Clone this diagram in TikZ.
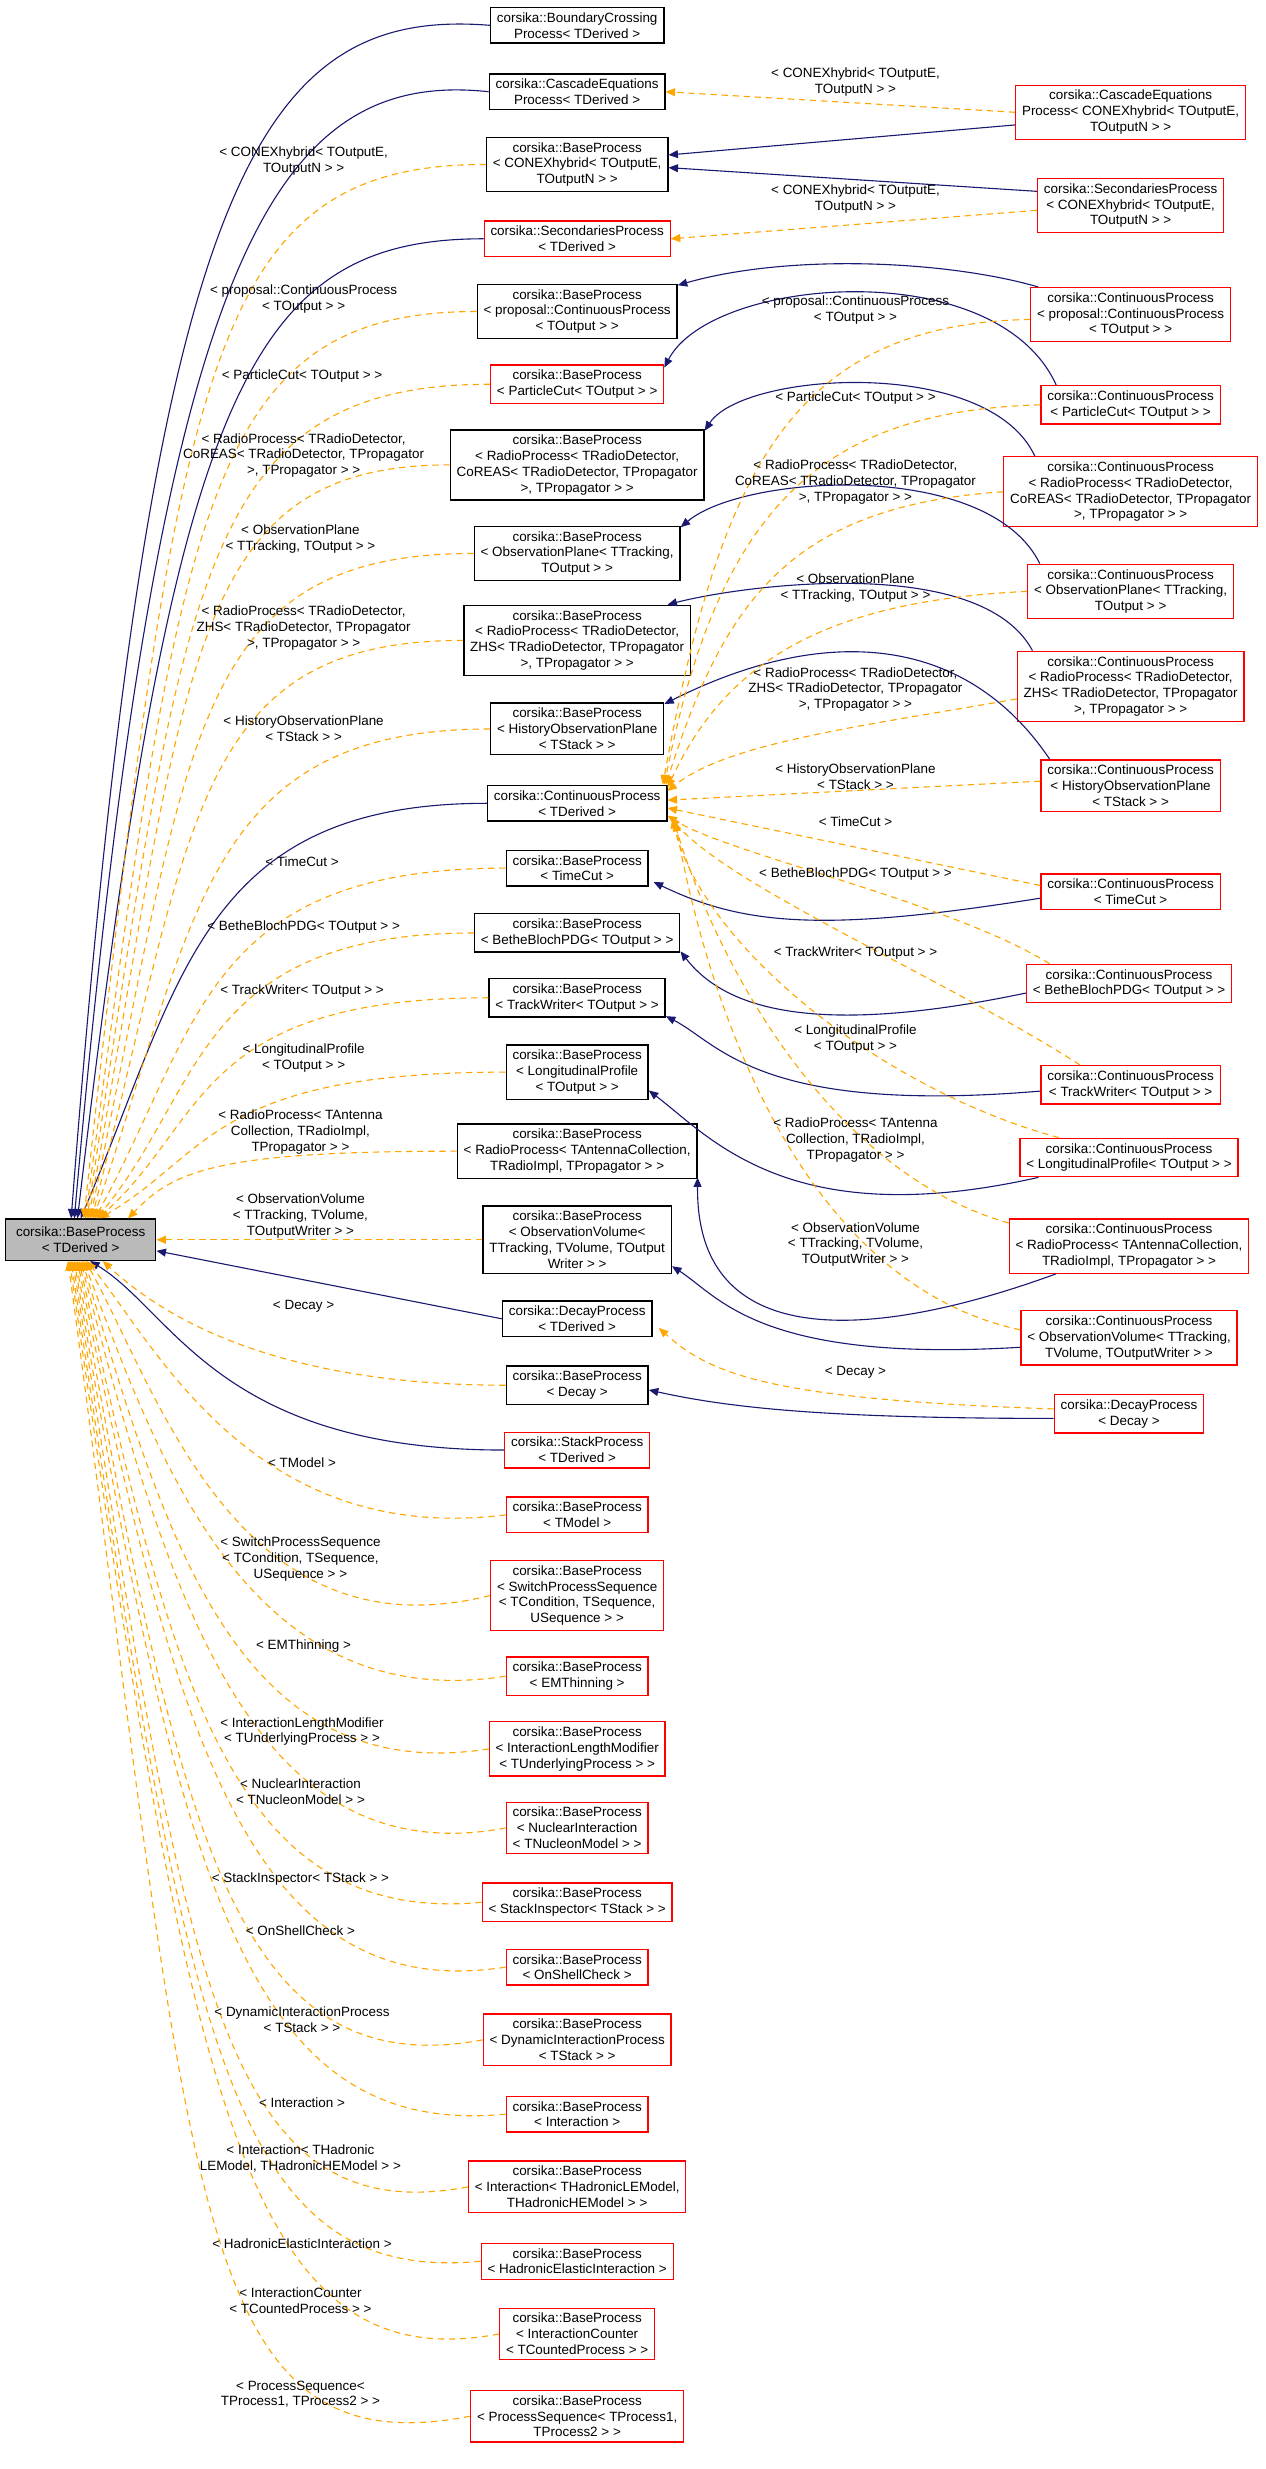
\documentclass[tikz,border=0pt]{standalone}
\usepackage{fontspec}
\setmainfont{Liberation Sans}
\usetikzlibrary{arrows.meta}
\definecolor{navy}{HTML}{191970}
\definecolor{dorange}{HTML}{FFA500}
\begin{document}
\begin{tikzpicture}[x=1pt,y=-1pt,
  every node/.style={font=\fontsize{8.5}{10}\selectfont,align=center,inner xsep=4pt,inner ysep=3.2pt},
  bb/.style={draw=black,line width=0.9pt,fill=white},
  rb/.style={draw=red,line width=0.8pt,fill=white},
  lab/.style={inner sep=0pt},
  inh/.style={draw=navy,line width=0.7pt,-{Triangle[length=6pt,width=5pt]}},
  tpl/.style={draw=dorange,line width=0.7pt,dash pattern=on 4pt off 3pt,-{Triangle[length=6pt,width=5pt]}}]
\useasboundingbox (0,0) rectangle (800,1561.4);
% gray
\node[draw=black,line width=0.9pt,fill=black!27,minimum width=95pt,minimum height=26pt] (G) at (51,784) {corsika::BaseProcess\\< TDerived >};
% middle column
\node[bb] (M1) at (365,16) {corsika::BoundaryCrossing\\Process< TDerived >};
\node[bb] (M2) at (365,58) {corsika::CascadeEquations\\Process< TDerived >};
\node[bb] (M3) at (365,104) {corsika::BaseProcess\\< CONEXhybrid< TOutputE,\\ TOutputN > >};
\node[rb] (M4) at (365,151) {corsika::SecondariesProcess\\< TDerived >};
\node[bb] (M5) at (365,197) {corsika::BaseProcess\\< proposal::ContinuousProcess\\< TOutput > >};
\node[rb] (M6) at (365,243) {corsika::BaseProcess\\< ParticleCut< TOutput > >};
\node[bb] (M7) at (365,294) {corsika::BaseProcess\\< RadioProcess< TRadioDetector,\\ CoREAS< TRadioDetector, TPropagator\\ >, TPropagator > >};
\node[bb] (M8) at (365,350) {corsika::BaseProcess\\< ObservationPlane< TTracking,\\ TOutput > >};
\node[bb] (M9) at (365,405) {corsika::BaseProcess\\< RadioProcess< TRadioDetector,\\ ZHS< TRadioDetector, TPropagator\\ >, TPropagator > >};
\node[bb] (M10) at (365,461) {corsika::BaseProcess\\< HistoryObservationPlane\\< TStack > >};
\node[bb] (M11) at (365,508) {corsika::ContinuousProcess\\< TDerived >};
\node[bb] (M12) at (365,549) {corsika::BaseProcess\\< TimeCut >};
\node[bb] (M13) at (365,590) {corsika::BaseProcess\\< BetheBlochPDG< TOutput > >};
\node[bb] (M14) at (365,631) {corsika::BaseProcess\\< TrackWriter< TOutput > >};
\node[bb] (M15) at (365,678) {corsika::BaseProcess\\< LongitudinalProfile\\< TOutput > >};
\node[bb] (M16) at (365,728) {corsika::BaseProcess\\< RadioProcess< TAntennaCollection,\\ TRadioImpl, TPropagator > >};
\node[bb] (M17) at (365,784) {corsika::BaseProcess\\< ObservationVolume<\\ TTracking, TVolume, TOutput\\Writer > >};
\node[bb] (M18) at (365,834) {corsika::DecayProcess\\< TDerived >};
\node[bb] (M19) at (365,876) {corsika::BaseProcess\\< Decay >};
\node[rb] (M20) at (365,917) {corsika::StackProcess\\< TDerived >};
\node[rb] (M21) at (365,958) {corsika::BaseProcess\\< TModel >};
\node[rb] (M22) at (365,1009) {corsika::BaseProcess\\< SwitchProcessSequence\\< TCondition, TSequence,\\ USequence > >};
\node[rb] (M23) at (365,1060) {corsika::BaseProcess\\< EMThinning >};
\node[rb] (M24) at (365,1106) {corsika::BaseProcess\\< InteractionLengthModifier\\< TUnderlyingProcess > >};
\node[rb] (M25) at (365,1156) {corsika::BaseProcess\\< NuclearInteraction\\< TNucleonModel > >};
\node[rb] (M26) at (365,1203) {corsika::BaseProcess\\< StackInspector< TStack > >};
\node[rb] (M27) at (365,1244) {corsika::BaseProcess\\< OnShellCheck >};
\node[rb] (M28) at (365,1290) {corsika::BaseProcess\\< DynamicInteractionProcess\\< TStack > >};
\node[rb] (M29) at (365,1337) {corsika::BaseProcess\\< Interaction >};
\node[rb] (M30) at (365,1383) {corsika::BaseProcess\\< Interaction< THadronicLEModel,\\ THadronicHEModel > >};
\node[rb] (M31) at (365,1430) {corsika::BaseProcess\\< HadronicElasticInteraction >};
\node[rb] (M32) at (365,1476) {corsika::BaseProcess\\< InteractionCounter\\< TCountedProcess > >};
\node[rb] (M33) at (365,1528) {corsika::BaseProcess\\< ProcessSequence< TProcess1,\\ TProcess2 > >};
% right column
\node[rb] (R1) at (715,71) {corsika::CascadeEquations\\Process< CONEXhybrid< TOutputE,\\ TOutputN > >};
\node[rb] (R2) at (715,130) {corsika::SecondariesProcess\\< CONEXhybrid< TOutputE,\\ TOutputN > >};
\node[rb] (R3) at (715,199) {corsika::ContinuousProcess\\< proposal::ContinuousProcess\\< TOutput > >};
\node[rb] (R4) at (715,256) {corsika::ContinuousProcess\\< ParticleCut< TOutput > >};
\node[rb] (R5) at (715,311) {corsika::ContinuousProcess\\< RadioProcess< TRadioDetector,\\ CoREAS< TRadioDetector, TPropagator\\ >, TPropagator > >};
\node[rb] (R6) at (715,374) {corsika::ContinuousProcess\\< ObservationPlane< TTracking,\\ TOutput > >};
\node[rb] (R7) at (715,434) {corsika::ContinuousProcess\\< RadioProcess< TRadioDetector,\\ ZHS< TRadioDetector, TPropagator\\ >, TPropagator > >};
\node[rb] (R8) at (715,497) {corsika::ContinuousProcess\\< HistoryObservationPlane\\< TStack > >};
\node[rb] (R9) at (715,564) {corsika::ContinuousProcess\\< TimeCut >};
\node[rb] (R10) at (714,622) {corsika::ContinuousProcess\\< BetheBlochPDG< TOutput > >};
\node[rb] (R11) at (715,686) {corsika::ContinuousProcess\\< TrackWriter< TOutput > >};
\node[rb] (R12) at (714,732) {corsika::ContinuousProcess\\< LongitudinalProfile< TOutput > >};
\node[rb] (R13) at (714,788) {corsika::ContinuousProcess\\< RadioProcess< TAntennaCollection,\\ TRadioImpl, TPropagator > >};
\node[rb] (R14) at (714,846) {corsika::ContinuousProcess\\< ObservationVolume< TTracking,\\ TVolume, TOutputWriter > >};
\node[rb] (R15) at (714,894) {corsika::DecayProcess\\< Decay >};
% edges to gray (solid)
\draw[inh] (M1.west) .. controls +(-150,-12) and (95,120) .. ([xshift=-6pt]G.north);
\draw[inh] (M2.west) .. controls +(-140,-15) and (100,170) .. ([xshift=-4pt]G.north);
\draw[inh] (M4.west) .. controls +(-150,0) and (110,250) .. ([xshift=-2pt]G.north);
\draw[inh] (M11.west) .. controls +(-180,0) and (115,620) .. ([xshift=0pt]G.north);
\draw[inh] (M18.west) -- ([yshift=-7pt]G.east);
\draw[inh] (M20.west) .. controls +(-180,0) and (110,830) .. ([xshift=6pt]G.south);
% edges to gray (dashed, above)
\draw[tpl] (M3.west) .. controls +(-175,0) and (112,230) .. ([xshift=2pt]G.north);
\draw[tpl] (M5.west) .. controls +(-170,0) and (114,320) .. ([xshift=3pt]G.north);
\draw[tpl] (M6.west) .. controls +(-185,0) and (116,370) .. ([xshift=4pt]G.north);
\draw[tpl] (M7.west) .. controls +(-165,0) and (118,420) .. ([xshift=5pt]G.north);
\draw[tpl] (M8.west) .. controls +(-180,0) and (120,470) .. ([xshift=6pt]G.north);
\draw[tpl] (M9.west) .. controls +(-170,0) and (122,520) .. ([xshift=7pt]G.north);
\draw[tpl] (M10.west) .. controls +(-180,0) and (124,580) .. ([xshift=8pt]G.north);
\draw[tpl] (M12.west) .. controls +(-190,0) and (126,650) .. ([xshift=9pt]G.north);
\draw[tpl] (M13.west) .. controls +(-175,0) and (128,690) .. ([xshift=10pt]G.north);
\draw[tpl] (M14.west) .. controls +(-185,0) and (130,710) .. ([xshift=11pt]G.north);
\draw[tpl] (M15.west) .. controls +(-185,0) and (132,730) .. ([xshift=12pt]G.north);
\draw[tpl] (M16.west) .. controls +(-150,0) and (110,740) .. ([xshift=-18pt]G.north east);
\draw[tpl] (M17.west) -- (G.east);
\draw[tpl] (M19.west) .. controls +(-150,0) and (100,830) .. ([xshift=14pt]G.south);
% edges to gray (dashed, below)
\draw[tpl] (M21.west) .. controls +(-160,20) and (98,850) .. ([xshift=4pt]G.south);
\draw[tpl] (M22.west) .. controls +(-160,40) and (100,880) .. ([xshift=3pt]G.south);
\draw[tpl] (M23.west) .. controls +(-160,25) and (102,930) .. ([xshift=2pt]G.south);
\draw[tpl] (M24.west) .. controls +(-160,25) and (104,970) .. ([xshift=1pt]G.south);
\draw[tpl] (M25.west) .. controls +(-160,30) and (106,1010) .. ([xshift=0pt]G.south);
\draw[tpl] (M26.west) .. controls +(-160,15) and (108,1060) .. ([xshift=-1pt]G.south);
\draw[tpl] (M27.west) .. controls +(-160,25) and (110,1100) .. ([xshift=-2pt]G.south);
\draw[tpl] (M28.west) .. controls +(-160,30) and (112,1150) .. ([xshift=-3pt]G.south);
\draw[tpl] (M29.west) .. controls +(-160,15) and (114,1200) .. ([xshift=-4pt]G.south);
\draw[tpl] (M30.west) .. controls +(-160,30) and (116,1240) .. ([xshift=-5pt]G.south);
\draw[tpl] (M31.west) .. controls +(-160,15) and (118,1290) .. ([xshift=-6pt]G.south);
\draw[tpl] (M32.west) .. controls +(-160,30) and (120,1330) .. ([xshift=-7pt]G.south);
\draw[tpl] (M33.west) .. controls +(-180,35) and (122,1380) .. ([xshift=-8pt]G.south);
% left labels
\node[lab] (L3) at (192,102) {< CONEXhybrid< TOutputE,\\ TOutputN > >};
\node[lab] (L5) at (192,189) {< proposal::ContinuousProcess\\< TOutput > >};
\node[lab] (L6) at (191,237.5) {< ParticleCut< TOutput > >};
\node[lab] (L7) at (192,288) {< RadioProcess< TRadioDetector,\\CoREAS< TRadioDetector, TPropagator\\ >, TPropagator > >};
\node[lab] (L8) at (190,341) {< ObservationPlane\\< TTracking, TOutput > >};
\node[lab] (L9) at (192,397) {< RadioProcess< TRadioDetector,\\ZHS< TRadioDetector, TPropagator\\ >, TPropagator > >};
\node[lab] (L10) at (192,461) {< HistoryObservationPlane\\< TStack > >};
\node[lab] (L12) at (191,545) {< TimeCut >};
\node[lab] (L13) at (192,586) {< BetheBlochPDG< TOutput > >};
\node[lab] (L14) at (191,627) {< TrackWriter< TOutput > >};
\node[lab] (L15) at (192,669) {< LongitudinalProfile\\< TOutput > >};
\node[lab] (L16) at (190,716) {< RadioProcess< TAntenna\\Collection, TRadioImpl,\\ TPropagator > >};
\node[lab] (L17) at (190,769) {< ObservationVolume\\< TTracking, TVolume,\\ TOutputWriter > >};
\node[lab] (L19) at (192,826) {< Decay >};
\node[lab] (L21) at (191,925) {< TModel >};
\node[lab] (L22) at (190,986) {< SwitchProcessSequence\\< TCondition, TSequence,\\ USequence > >};
\node[lab] (L23) at (192,1041) {< EMThinning >};
\node[lab] (L24) at (191,1095) {< InteractionLengthModifier\\< TUnderlyingProcess > >};
\node[lab] (L25) at (190,1133) {< NuclearInteraction\\< TNucleonModel > >};
\node[lab] (L26) at (190,1188) {< StackInspector< TStack > >};
\node[lab] (L27) at (190,1221) {< OnShellCheck >};
\node[lab] (L28) at (191,1277) {< DynamicInteractionProcess\\< TStack > >};
\node[lab] (L29) at (191,1330) {< Interaction >};
\node[lab] (L30) at (190,1365) {< Interaction< THadronic\\LEModel, THadronicHEModel > >};
\node[lab] (L31) at (191,1419) {< HadronicElasticInteraction >};
\node[lab] (L32) at (190,1455) {< InteractionCounter\\< TCountedProcess > >};
\node[lab] (L33) at (190,1514) {< ProcessSequence<\\TProcess1, TProcess2 > >};
% right -> middle edges
\draw[tpl] (R1.west) -- (M2.east);
\draw[inh] ([yshift=-8pt]R1.west) -- ([yshift=6pt]M3.east);
\draw[inh] ([yshift=9pt]R2.west) -- ([yshift=-2pt]M3.east);
\draw[tpl] ([yshift=-3pt]R2.west) -- (M4.east);
\draw[inh] ([xshift=5pt]R3.north west) .. controls (600,165) and (500,160) .. ([yshift=-1pt]M5.north east);
\draw[inh] ([xshift=10pt]R4.north west) .. controls (630,160) and (450,175) .. ([yshift=-2pt]M6.north east);
\draw[inh] ([xshift=20pt]R5.north west) .. controls (625,225) and (470,235) .. ([yshift=-1pt]M7.north east);
\draw[inh] ([xshift=8pt]R6.north west) .. controls (625,290) and (470,300) .. ([yshift=-1pt]M8.north east);
\draw[inh] ([xshift=10pt]R7.north west) .. controls (620,350) and (470,370) .. ([xshift=-15pt]M9.north east);
\draw[inh] ([xshift=6pt]R8.north west) .. controls (610,400) and (520,395) .. ([yshift=-1pt]M10.north east);
\draw[inh] ([yshift=-4pt]R9.west) .. controls (520,590) and (470,585) .. ([xshift=3pt,yshift=3pt]M12.south east);
\draw[inh] ([yshift=-6pt]R10.west) .. controls (520,655) and (460,640) .. ([yshift=1pt]M13.south east);
\draw[inh] ([yshift=-4pt]R11.west) .. controls (480,705) and (455,660) .. ([yshift=1pt]M14.south east);
\draw[inh] ([xshift=12pt]R12.south west) .. controls (500,780) and (450,720) .. ([yshift=6pt]M15.south east);
\draw[inh] ([xshift=30pt]R13.south west) .. controls (560,845) and (440,860) .. ([yshift=1pt]M16.south east);
\draw[inh] ([yshift=-6pt]R14.west) .. controls (480,862) and (455,820) .. ([yshift=5pt]M17.south east);
\draw[inh] ([yshift=-3pt]R15.west) .. controls (520,897) and (460,890) .. ([yshift=-3pt]M19.east);
\draw[tpl] ([yshift=3pt]R15.west) .. controls (490,885) and (450,870) .. ([xshift=4pt,yshift=6pt]M18.south east);
% dashed into M11
\draw[tpl] ([yshift=-3pt]R3.west) .. controls (500,205) and (455,300) .. ([xshift=-3pt]M11.north east);
\draw[tpl] (R4.west) .. controls (520,260) and (455,320) .. ([xshift=-2pt]M11.north east);
\draw[tpl] (R5.west) .. controls (500,320) and (458,380) .. ([xshift=-1pt]M11.north east);
\draw[tpl] (R6.west) .. controls (520,380) and (458,420) .. ([yshift=-2pt]M11.north east);
\draw[tpl] ([yshift=-8pt]R7.west) .. controls (540,460) and (460,470) .. ([yshift=-4pt]M11.north east);
\draw[tpl] ([yshift=3pt]R8.west) -- ([yshift=2pt]M11.east);
\draw[tpl] ([yshift=4pt]R9.west) -- ([yshift=-3pt]M11.east);
\draw[tpl] ([xshift=15pt]R10.north west) .. controls (600,570) and (460,540) .. ([yshift=4pt]M11.south east);
\draw[tpl] ([xshift=25pt]R11.north west) .. controls (600,620) and (460,560) .. ([xshift=2pt,yshift=3pt]M11.south east);
\draw[tpl] ([xshift=25pt]R12.north west) .. controls (560,690) and (445,600) .. ([xshift=3pt,yshift=2pt]M11.south east);
\draw[tpl] ([yshift=-3pt]R13.north west) .. controls (520,740) and (450,600) .. ([xshift=4pt,yshift=1pt]M11.south east);
\draw[tpl] ([yshift=5pt]R14.west) .. controls (500,810) and (445,620) .. ([xshift=5pt]M11.south east);
% middle labels
\node[lab] (N1) at (541,52) {< CONEXhybrid< TOutputE,\\ TOutputN > >};
\node[lab] (N2) at (541,126) {< CONEXhybrid< TOutputE,\\ TOutputN > >};
\node[lab] (N3) at (541,196) {< proposal::ContinuousProcess\\< TOutput > >};
\node[lab] (N4) at (541,252) {< ParticleCut< TOutput > >};
\node[lab] (N5) at (541,305) {< RadioProcess< TRadioDetector,\\CoREAS< TRadioDetector, TPropagator\\ >, TPropagator > >};
\node[lab] (N6) at (541,372) {< ObservationPlane\\< TTracking, TOutput > >};
\node[lab] (N7) at (541,436) {< RadioProcess< TRadioDetector,\\ZHS< TRadioDetector, TPropagator\\ >, TPropagator > >};
\node[lab] (N8) at (541,491) {< HistoryObservationPlane\\< TStack > >};
\node[lab] (N9) at (541,519.5) {< TimeCut >};
\node[lab] (N10) at (541,553) {< BetheBlochPDG< TOutput > >};
\node[lab] (N11) at (541,603) {< TrackWriter< TOutput > >};
\node[lab] (N12) at (541,657) {< LongitudinalProfile\\< TOutput > >};
\node[lab] (N13) at (541,721) {< RadioProcess< TAntenna\\Collection, TRadioImpl,\\ TPropagator > >};
\node[lab] (N14) at (541,787) {< ObservationVolume\\< TTracking, TVolume,\\ TOutputWriter > >};
\node[lab] (N15) at (541,868) {< Decay >};
\end{tikzpicture}
\end{document}
